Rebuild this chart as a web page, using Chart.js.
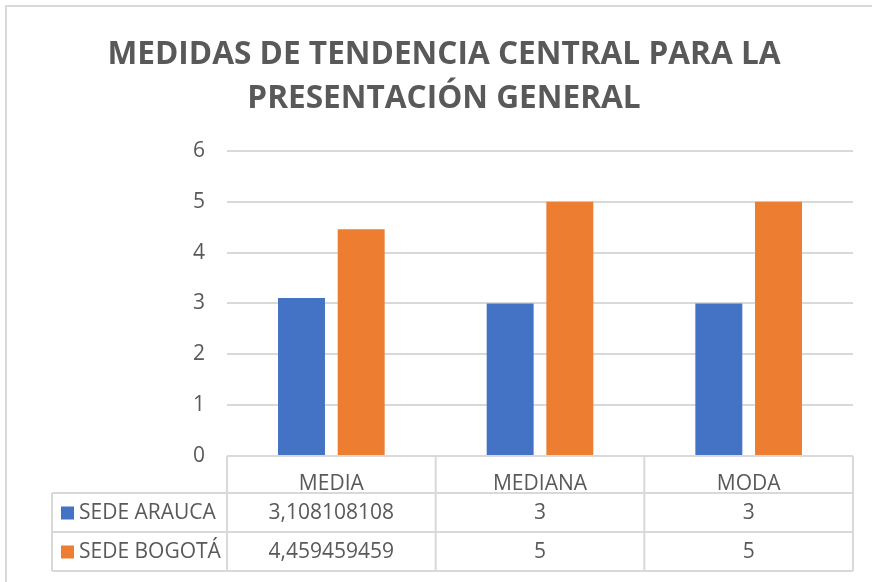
<!DOCTYPE html>
<html>
<head>
<meta charset="utf-8">
<script src="https://cdn.jsdelivr.net/npm/chart.js@4"></script>
<style>
  html, body { margin: 0; padding: 0; background: #fff; }
  #wrap { width: 872px; height: 582px; }
</style>
</head>
<body>
<div id="wrap"><canvas id="medidas_chart"></canvas></div>
<script>
const categories = ['MEDIA', 'MEDIANA', 'MODA'];
const series_names = ['SEDE ARAUCA', 'SEDE BOGOTÁ'];
const sede_arauca = [3.108108108, 3, 3];
const sede_bogota = [4.459459459, 5, 5];
const y_ticks = [0, 1, 2, 3, 4, 5, 6];

const series_colors = ['#4472C4', '#ED7D31'];
const text_color = '#595959';
const line_color = '#d9d9d9';
const font_family = "'Open Sans', sans-serif";

const header_height = 37;
const row_height = 39;
const table_left = 52;

// outer frame of the chart object (top and left edges)
const chart_frame = {
	id: 'chart_frame',
	beforeDraw(chart) {
		const ctx = chart.ctx;
		ctx.save();
		ctx.strokeStyle = line_color;
		ctx.lineWidth = 2;
		ctx.beginPath();
		ctx.moveTo(6, chart.height);
		ctx.lineTo(6, 6);
		ctx.lineTo(chart.width, 6);
		ctx.stroke();
		ctx.restore();
	}
};

// data table under the x axis, Excel style
const data_table = {
	id: 'data_table',
	afterDraw(chart) {
		const ctx = chart.ctx;
		const area = chart.chartArea;
		const x = chart.scales.x;
		const n = categories.length;
		const cell_w = (area.right - area.left) / n;
		const y0 = area.bottom;
		const y1 = y0 + header_height;
		const rows = chart.data.datasets.length;
		const y_end = y1 + rows * row_height;

		ctx.save();
		ctx.strokeStyle = line_color;
		ctx.lineWidth = 2;
		ctx.beginPath();
		ctx.moveTo(area.left, y0);
		ctx.lineTo(area.right, y0);
		for (let r = 0; r <= rows; r++) {
			ctx.moveTo(table_left, y1 + r * row_height);
			ctx.lineTo(area.right, y1 + r * row_height);
		}
		ctx.moveTo(table_left, y1);
		ctx.lineTo(table_left, y_end);
		for (let i = 0; i <= n; i++) {
			const px = area.left + i * cell_w;
			ctx.moveTo(px, y0);
			ctx.lineTo(px, y_end);
		}
		ctx.stroke();

		ctx.font = '21px ' + font_family;
		ctx.fillStyle = text_color;
		ctx.textBaseline = 'middle';
		chart.data.datasets.forEach((ds, r) => {
			const cy = y1 + r * row_height + row_height / 2;
			ctx.fillStyle = ds.backgroundColor;
			ctx.fillRect(61, cy - 6, 13, 13);
			ctx.fillStyle = text_color;
			ctx.textAlign = 'left';
			ctx.fillText(ds.label, 79, cy + 1);
			ctx.textAlign = 'center';
			ds.data.forEach((v, i) => {
				ctx.fillText(String(v).replace('.', ','), x.getPixelForTick(i), cy + 1);
			});
		});
		ctx.restore();
	}
};

const medidas_chart = new Chart(
		document.getElementById('medidas_chart').getContext('2d'),
		{
			type: 'bar',
			data: {
				labels: categories,
				datasets: [{
						label: series_names[0],
						data: sede_arauca,
						backgroundColor: series_colors[0]
					}, {
						label: series_names[1],
						data: sede_bogota,
						backgroundColor: series_colors[1]
					}]
			},
			options: {
				responsive: true,
				maintainAspectRatio: false,
				animation: false,
				categoryPercentage: 0.572,
				barPercentage: 0.787,
				layout: {
					padding: { left: 35, right: 19, top: 0, bottom: 2 * row_height + 11 }
				},
				scales: {
					x: {
						grid: { display: false },
						border: { display: false },
						ticks: {
							color: text_color,
							font: { family: font_family, size: 21 },
							padding: 7
						},
						afterFit: scale => { scale.height = header_height; }
					},
					y: {
						min: 0,
						max: 6,
						afterBuildTicks: scale => { scale.ticks = y_ticks.map(v => ({ value: v })); },
						grid: { color: line_color, lineWidth: 2, drawTicks: false },
						border: { display: false },
						ticks: {
							color: text_color,
							font: { family: font_family, size: 21 },
							padding: 22
						},
						afterFit: scale => { scale.width = 192; }
					}
				},
				plugins: {
					legend: { display: false },
					tooltip: { enabled: false },
					title: {
						display: true,
						text: ['MEDIDAS DE TENDENCIA CENTRAL PARA LA', 'PRESENTACIÓN GENERAL'],
						color: text_color,
						font: { family: font_family, size: 31.6, weight: 'bold', lineHeight: 1.39 },
						padding: { top: 33, bottom: 30 }
					}
				}
			},
			plugins: [chart_frame, data_table],
		}
);
</script>
</body>
</html>
